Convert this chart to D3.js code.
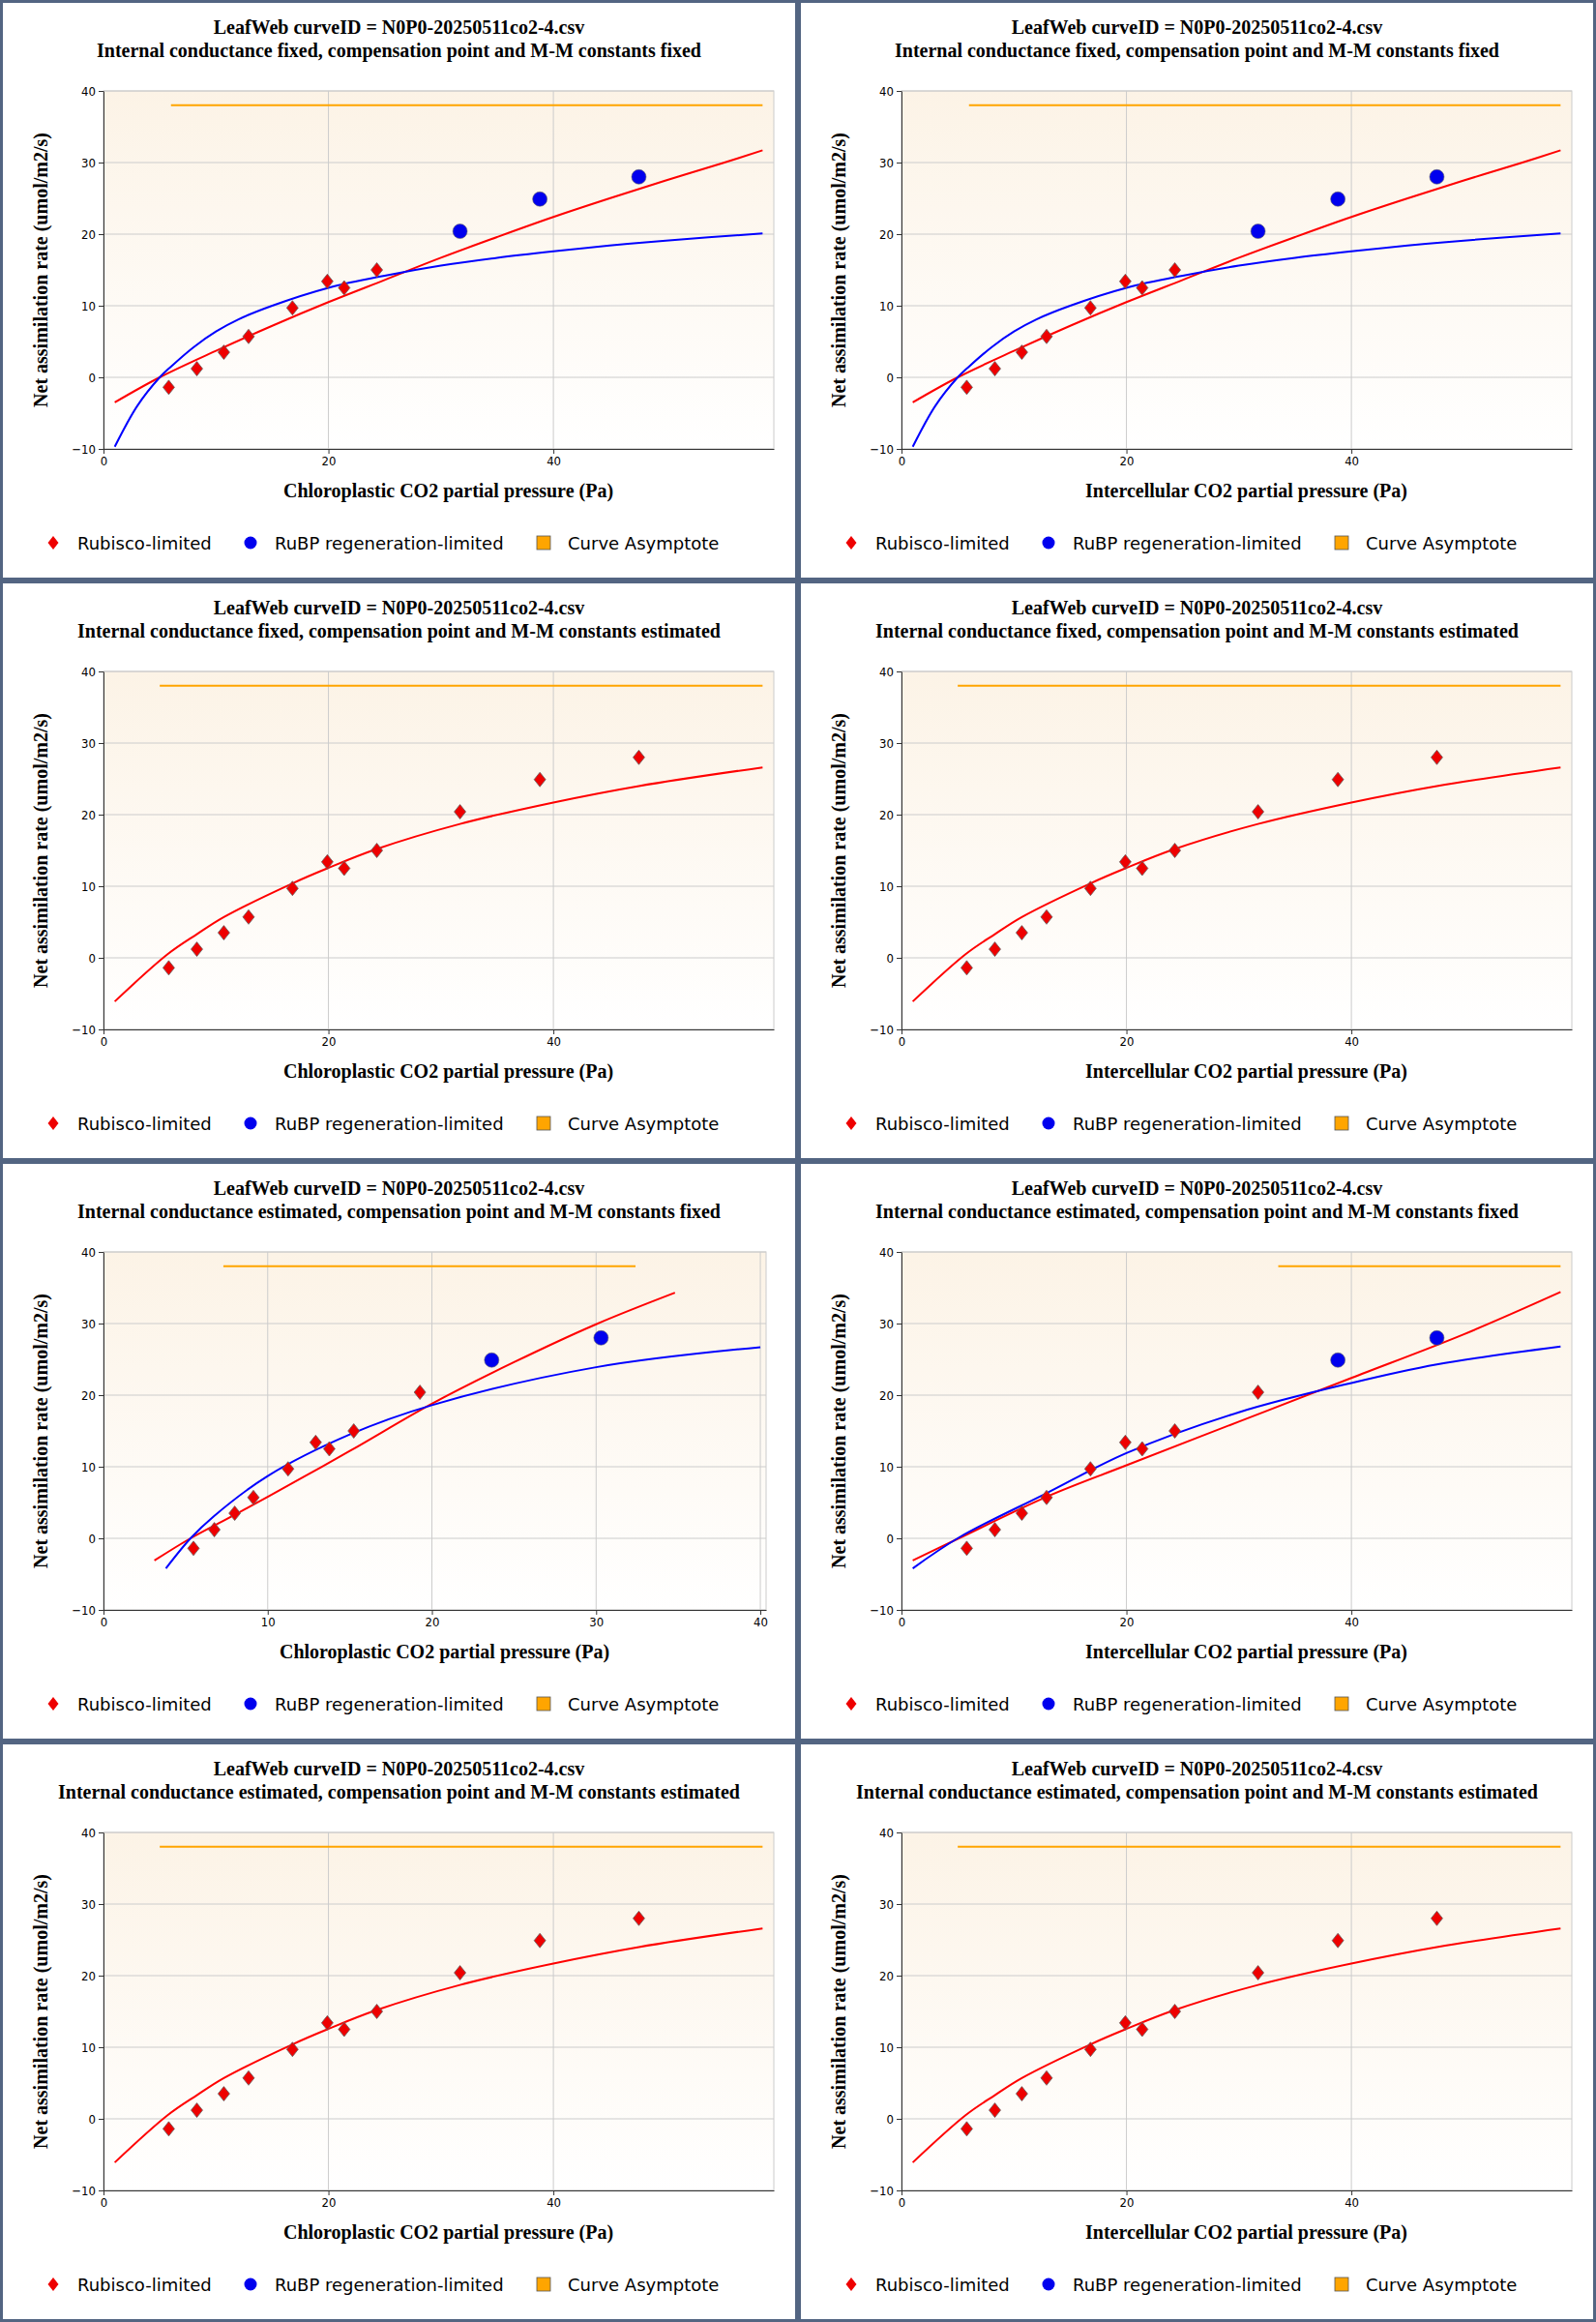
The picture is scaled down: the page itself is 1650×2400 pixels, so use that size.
<!DOCTYPE html>
<html>
<head>
<meta charset="utf-8">
<script src="https://cdn.jsdelivr.net/npm/d3@7"></script>
<style>
  body { margin: 0; background: #fff; }
  svg text { fill: #000; }
</style>
</head>
<body>
<svg id="chart" width="1650" height="2400"></svg>
<script>
var panelW = 825, panelH = 600;
var margin = { top: 94, right: 25, bottom: 136, left: 107 };

// measured points (same for all panels), x in Pa, y in umol/m2/s
var ciValues = [5.8, 8.3, 10.7, 12.9, 16.8, 19.9, 21.4, 24.3, 31.7, 38.8, 47.6];
var aValues = [-1.4, 1.2, 3.5, 5.7, 9.7, 13.4, 12.5, 15.0, 20.4, 24.9, 28.0];
var ccEstValues = [5.48, 6.75, 7.99, 9.13, 11.24, 12.92, 13.75, 15.24, 19.27, 23.64, 30.3];

// limitation class per point: "r" rubisco, "j" RuBP regeneration
var limitFixed = ["r","r","r","r","r","r","r","r","j","j","j"];
var limitAll = ["r","r","r","r","r","r","r","r","r","r","r"];
var limitGmEstCi = ["r","r","r","r","r","r","r","r","r","j","j"];
var limitGmEstCc = ["r","r","r","r","r","r","r","r","r","j","j"];

// fitted curves
var rubiscoFixed = [[1,-3.5],[5,0],[10,3.7],[15,7.2],[20,10.5],[25,13.6],[30,16.7],[35,19.6],[40,22.4],[45,25],[50,27.5],[55,29.9],[58.6,31.7]];
var rubpFixed = [[1,-9.7],[3,-4],[5,0],[6,1.5],[8,4.2],[10,6.4],[12,8.1],[15,10],[20,12.5],[25,14.2],[30,15.6],[35,16.7],[40,17.6],[45,18.4],[50,19.1],[58.6,20.1]];
var rubiscoEst = [[1,-6.1],[5.7,0.5],[8.3,3.3],[10.7,5.7],[16.8,10.4],[19.9,12.5],[24.3,15.2],[31.7,18.7],[40,21.7],[47.6,24],[58.6,26.6]];
var rubiscoGmCc = [[3.1,-3.1],[5.3,0],[8,3.3],[10,5.8],[15,12.2],[20,18.8],[25,24.6],[30,29.9],[34.8,34.3]];
var rubpGmCc = [[3.8,-4.2],[5.3,0],[6.7,3.05],[10,8.7],[15,14.5],[20,18.6],[30,23.9],[40,26.7]];
var rubiscoGmCi = [[1,-3.1],[5.1,0],[12.9,5.8],[20,10.2],[30,16.3],[40,22.4],[50,28.5],[58.6,34.4]];
var rubpGmCi = [[1,-4.2],[5.1,0.1],[12.9,6.3],[20,11.9],[30,17.6],[40,21.7],[47.6,24.3],[58.6,26.8]];

var asymptoteY = 38;
var yDomain = [-10, 40];
var yTicks = [-10, 0, 10, 20, 30, 40];
var xTicksWide = [0, 20, 40];
var xTicksNarrow = [0, 10, 20, 30, 40];

var titleTop = "LeafWeb curveID = N0P0-20250511co2-4.csv";
var subtitles = [
  "Internal conductance fixed, compensation point and M-M constants fixed",
  "Internal conductance fixed, compensation point and M-M constants estimated",
  "Internal conductance estimated, compensation point and M-M constants fixed",
  "Internal conductance estimated, compensation point and M-M constants estimated"
];
var xLabels = ["Chloroplastic CO2 partial pressure (Pa)", "Intercellular CO2 partial pressure (Pa)"];
var legendNames = ["Rubisco-limited", "RuBP regeneration-limited", "Curve Asymptote"];

var panels = [
  { row: 0, col: 0, xs: ciValues, lim: limitFixed, red: rubiscoFixed, blue: rubpFixed, asym: [6.0, 58.6], xMax: 59.6, ticks: xTicksWide },
  { row: 0, col: 1, xs: ciValues, lim: limitFixed, red: rubiscoFixed, blue: rubpFixed, asym: [6.0, 58.6], xMax: 59.6, ticks: xTicksWide },
  { row: 1, col: 0, xs: ciValues, lim: limitAll, red: rubiscoEst, blue: null, asym: [5.0, 58.6], xMax: 59.6, ticks: xTicksWide },
  { row: 1, col: 1, xs: ciValues, lim: limitAll, red: rubiscoEst, blue: null, asym: [5.0, 58.6], xMax: 59.6, ticks: xTicksWide },
  { row: 2, col: 0, xs: ccEstValues, lim: limitGmEstCc, red: rubiscoGmCc, blue: rubpGmCc, asym: [7.3, 32.4], xMax: 40.35, ticks: xTicksNarrow },
  { row: 2, col: 1, xs: ciValues, lim: limitGmEstCi, red: rubiscoGmCi, blue: rubpGmCi, asym: [33.5, 58.6], xMax: 59.6, ticks: xTicksWide },
  { row: 3, col: 0, xs: ciValues, lim: limitAll, red: rubiscoEst, blue: null, asym: [5.0, 58.6], xMax: 59.6, ticks: xTicksWide },
  { row: 3, col: 1, xs: ciValues, lim: limitAll, red: rubiscoEst, blue: null, asym: [5.0, 58.6], xMax: 59.6, ticks: xTicksWide }
];

var svg = d3.select("#chart");

var grad = svg.append("defs").append("linearGradient")
  .attr("id", "bg").attr("x1", 0).attr("y1", 0).attr("x2", 0).attr("y2", 1);
grad.append("stop").attr("offset", "0%").attr("stop-color", "#fcf3e6");
grad.append("stop").attr("offset", "100%").attr("stop-color", "#ffffff");

var width = panelW - margin.left - margin.right;
var height = panelH - margin.top - margin.bottom;
var serif = "'Liberation Serif', 'DejaVu Serif', serif";
var sans = "'DejaVu Sans', Verdana, sans-serif";

panels.forEach(function(p) {
  var g = svg.append("g")
    .attr("transform", `translate(${p.col * panelW}, ${p.row * panelH})`);

  g.append("rect")
    .attr("x", 1.5).attr("y", 1.5)
    .attr("width", panelW - 3).attr("height", panelH - 3)
    .attr("fill", "#fff").attr("stroke", "#536582").attr("stroke-width", 3);

  g.append("text").attr("x", panelW / 2).attr("y", 35)
    .attr("text-anchor", "middle").style("font", `bold 20px ${serif}`)
    .text(titleTop);
  g.append("text").attr("x", panelW / 2).attr("y", 59)
    .attr("text-anchor", "middle").style("font", `bold 20px ${serif}`)
    .text(subtitles[p.row]);

  var plotW = (p.xMax === 40.35) ? 685 : width;
  var x = d3.scaleLinear().domain([0, p.xMax]).range([0, plotW]);
  var y = d3.scaleLinear().domain(yDomain).range([height, 0]);

  var chartGroup = g.append("g")
    .attr("transform", `translate(${margin.left}, ${margin.top})`);

  chartGroup.append("rect").attr("width", plotW).attr("height", height)
    .attr("fill", "url(#bg)").attr("stroke", "#ccc");

  // grid
  chartGroup.selectAll(".gy").data(yTicks).enter().append("line")
    .attr("x1", 0).attr("x2", plotW)
    .attr("y1", d => y(d)).attr("y2", d => y(d))
    .attr("stroke", "#ccc");
  chartGroup.selectAll(".gx").data(p.ticks).enter().append("line")
    .attr("x1", d => x(d)).attr("x2", d => x(d))
    .attr("y1", 0).attr("y2", height)
    .attr("stroke", "#ccc");

  var bottomAxis = d3.axisBottom(x).tickValues(p.ticks).tickSize(5).tickSizeOuter(0);
  var leftAxis = d3.axisLeft(y).tickValues(yTicks).tickSize(5).tickSizeOuter(0);

  var xa = chartGroup.append("g").attr("transform", `translate(0, ${height})`).call(bottomAxis);
  var ya = chartGroup.append("g").call(leftAxis);
  [xa, ya].forEach(function(a) {
    a.select(".domain").attr("stroke", "#333");
    a.selectAll(".tick line").attr("stroke", "#333");
    a.selectAll("text").style("font", `13px 'DejaVu Sans Condensed', ${sans}`).attr("fill", "#000");
  });

  // asymptote
  chartGroup.append("line")
    .attr("x1", x(p.asym[0])).attr("x2", x(p.asym[1]))
    .attr("y1", y(asymptoteY)).attr("y2", y(asymptoteY))
    .attr("stroke", "#ffa500").attr("stroke-width", 2);

  var line = d3.line().x(d => x(d[0])).y(d => y(d[1])).curve(d3.curveCatmullRom.alpha(0.5));
  chartGroup.append("path").datum(p.red).attr("d", line)
    .attr("fill", "none").attr("stroke", "#ff0000").attr("stroke-width", 2);
  if (p.blue) {
    chartGroup.append("path").datum(p.blue).attr("d", line)
      .attr("fill", "none").attr("stroke", "#0000ff").attr("stroke-width", 2);
  }

  var pts = p.xs.map((v, i) => ({ x: v, y: aValues[i], k: p.lim[i] }));
  chartGroup.selectAll(".dia").data(pts.filter(d => d.k === "r")).enter().append("path")
    .attr("d", "M0,-7.5L6,0L0,7.5L-6,0Z")
    .attr("transform", d => `translate(${x(d.x)}, ${y(d.y)})`)
    .attr("fill", "#ee0000").attr("stroke", "#666").attr("stroke-width", 0.8);
  chartGroup.selectAll(".dot").data(pts.filter(d => d.k === "j")).enter().append("circle")
    .attr("cx", d => x(d.x)).attr("cy", d => y(d.y)).attr("r", 7.5)
    .attr("fill", "#0000ee").attr("stroke", "#666").attr("stroke-width", 0.6);

  // axis titles
  g.append("text").attr("x", margin.left + plotW / 2 + 10).attr("y", 514)
    .attr("text-anchor", "middle").style("font", `bold 20px ${serif}`)
    .text(xLabels[p.col]);
  g.append("text")
    .attr("transform", `translate(49, 279) rotate(-90)`)
    .attr("text-anchor", "middle").style("font", `bold 20px ${serif}`)
    .text("Net assimilation rate (umol/m2/s)");

  // legend
  var lg = g.append("g").attr("transform", "translate(0, 561)");
  lg.append("path").attr("d", "M0,-7L5.5,0L0,7L-5.5,0Z").attr("transform", "translate(55,0)")
    .attr("fill", "#ee0000");
  lg.append("circle").attr("cx", 259).attr("cy", 0).attr("r", 6.5).attr("fill", "#0000ee");
  lg.append("rect").attr("x", 555).attr("y", -7).attr("width", 14).attr("height", 14)
    .attr("fill", "#ffa500").attr("stroke", "#555").attr("stroke-width", 0.8);
  [80, 284, 587].forEach(function(lx, i) {
    lg.append("text").attr("x", lx).attr("y", 7).style("font", `18px ${sans}`).text(legendNames[i]);
  });
});
</script>
</body>
</html>
